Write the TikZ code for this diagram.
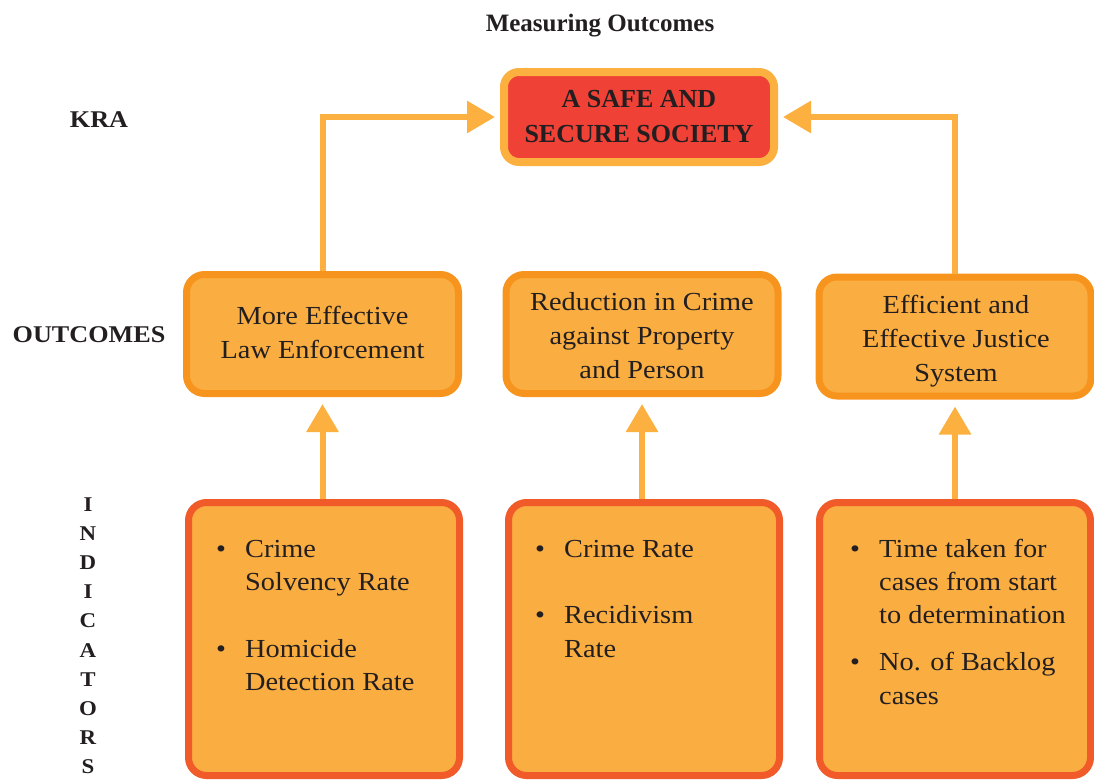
\documentclass[tikz,border=0pt]{standalone}
\usepackage{fontspec}
\usepackage{graphicx}
\setmainfont{Liberation Serif}[FakeStretch=1.09]
\newfontfamily\headfont{Liberation Serif}
\usetikzlibrary{arrows.meta}

\definecolor{inkc}{HTML}{231F20}
\definecolor{linkc}{HTML}{FBB040}
\definecolor{krafill}{HTML}{EF4136}
\definecolor{kraedge}{HTML}{FBB040}
\definecolor{outfill}{HTML}{FAAD41}
\definecolor{outedge}{HTML}{F7941D}
\definecolor{indfill}{HTML}{FAAD41}
\definecolor{indedge}{HTML}{F15A29}

\newcommand{\stack}[1]{\begin{tabular}[t]{@{}c@{}}#1\end{tabular}}
\newcommand{\blist}[1]{\begin{tabular}[t]{@{}p{29pt}@{}l@{}}#1\end{tabular}}

\begin{document}
\begin{tikzpicture}[x=1pt,y=-1pt,
  every node/.style={text=inkc, inner sep=0pt},
  kra/.style={draw=kraedge, fill=krafill, line width=8pt, rounded corners=15pt,
    minimum width=270pt, minimum height=90pt},
  outbox/.style={draw=outedge, fill=outfill, line width=7pt, rounded corners=18pt,
    minimum width=272pt, minimum height=119pt},
  indbox/.style={draw=indedge, fill=indfill, line width=7pt, rounded corners=18pt,
    minimum width=271pt, minimum height=273pt},
  boxtext/.style={anchor=base, font=\fontsize{26}{34}\selectfont},
  listtext/.style={anchor=base west, font=\fontsize{26}{33.4}\selectfont},
  rowlabel/.style={anchor=base, font=\fontsize{24}{29.6}\selectfont\bfseries},
  link/.style={draw=linkc, line width=6pt, -{Triangle[width=31pt,length=28pt]}}
]
\useasboundingbox (0,0) rectangle (1094,779);

% heading
\node[anchor=base, font=\fontsize{25}{30}\selectfont\headfont\bfseries] (title)
  at (600,31) {Measuring Outcomes};

% row labels
\node[rowlabel] (kralab) at (99,127) {KRA};
\node[rowlabel] (outlab) at (89,342) {OUTCOMES};
\node[rowlabel, font=\fontsize{21}{29.2}\selectfont\bfseries] (indlab) at (88,511)
  {\stack{I\\N\\D\\I\\C\\A\\T\\O\\R\\S}};

% key result area
\node[kra] (kra) at (639,117) {};
\node[anchor=base, font=\fontsize{26}{35}\selectfont\headfont\bfseries] (kratext)
  at (639,107) {\stack{A SAFE AND\\SECURE SOCIETY}};

% outcomes
\node[outbox] (o1) at (322.5,334) {};
\node[outbox] (o2) at (642,334) {};
\node[outbox] (o3) at (955,336.5) {};
\node[boxtext] (o1text) at (322.5,324) {\stack{More Effective\\Law Enforcement}};
\node[boxtext] (o2text) at (642,310) {\stack{Reduction in Crime\\against Property\\and Person}};
\node[boxtext] (o3text) at (956,313) {\stack{Efficient and\\Effective Justice\\System}};

% indicators
\node[indbox] (i1) at (324,639) {};
\node[indbox] (i2) at (644,639) {};
\node[indbox] (i3) at (955,639) {};
\node[listtext] (i1text) at (216,557) {\blist{%
  \textbullet & Crime\\
  & Solvency Rate\\
  & \\
  \textbullet & Homicide\\
  & Detection Rate}};
\node[listtext] (i2text) at (535,557) {\blist{%
  \textbullet & Crime Rate\\
  & \\
  \textbullet & Recidivism\\
  & Rate}};
\node[listtext] (i3text) at (850,557) {\blist{%
  \textbullet & Time taken for\\
  & cases from start\\
  & to determination\\[13.5pt]
  \textbullet & No. of Backlog\\
  & cases}};

% connectors
\draw[link, shorten >=5pt] (o1.north) |- (kra.west);
\draw[link, shorten >=5pt] (o3.north) |- (kra.east);
\draw[link, shorten >=7pt] (o1.south |- i1.north) -- (o1.south);
\draw[link, shorten >=7pt] (o2.south |- i2.north) -- (o2.south);
\draw[link, shorten >=7pt] (o3.south |- i3.north) -- (o3.south);
\end{tikzpicture}
\end{document}
